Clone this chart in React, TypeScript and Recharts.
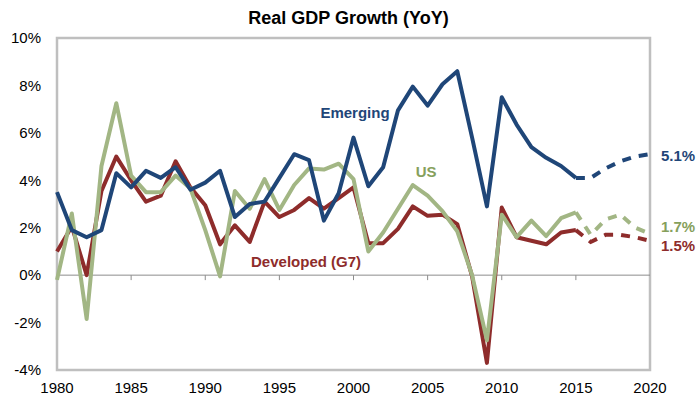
import { LineChart, Line, XAxis, YAxis, ReferenceLine, ReferenceArea, ReferenceDot } from 'recharts';

const years = [
  1980, 1981, 1982, 1983, 1984, 1985, 1986, 1987, 1988, 1989,
  1990, 1991, 1992, 1993, 1994, 1995, 1996, 1997, 1998, 1999,
  2000, 2001, 2002, 2003, 2004, 2005, 2006, 2007, 2008, 2009,
  2010, 2011, 2012, 2013, 2014, 2015,
];

const emerging = [
  3.5, 1.9, 1.6, 1.9, 4.3, 3.7, 4.4, 4.1, 4.55, 3.6,
  3.9, 4.4, 2.45, 3.0, 3.1, 4.1, 5.1, 4.85, 2.3, 3.45,
  5.8, 3.75, 4.55, 6.95, 7.95, 7.15, 8.05, 8.6, 5.8, 2.9,
  7.5, 6.35, 5.4, 4.95, 4.6, 4.1,
];

const developed = [
  1.0, 2.05, 0.0, 3.55, 5.0, 4.0, 3.1, 3.35, 4.8, 3.7,
  2.95, 1.3, 2.1, 1.4, 3.1, 2.45, 2.75, 3.25, 2.8, 3.25,
  3.7, 1.35, 1.35, 1.95, 2.9, 2.5, 2.55, 2.15, -0.05, -3.7,
  2.85, 1.6, 1.45, 1.3, 1.8, 1.9,
];

const us = [
  -0.2, 2.6, -1.85, 4.6, 7.25, 4.2, 3.5, 3.5, 4.2, 3.65,
  1.9, -0.05, 3.55, 2.8, 4.05, 2.75, 3.8, 4.5, 4.45, 4.7,
  4.05, 1.0, 1.8, 2.8, 3.8, 3.35, 2.7, 1.85, 0.0, -2.75,
  2.55, 1.6, 2.3, 1.65, 2.4, 2.65,
];

// forecast (dashed) part
const forecastYears = [2016, 2017, 2018, 2019, 2020];
const emergingF = [4.1, 4.5, 4.8, 5.0, 5.1];
const developedF = [1.4, 1.7, 1.7, 1.6, 1.45];
const usF = [1.7, 2.35, 2.55, 2.0, 1.75];

const xTicks = [1980, 1985, 1990, 1995, 2000, 2005, 2010, 2015, 2020];
const yTicks = [-4, -2, 0, 2, 4, 6, 8, 10];

const BLUE = '#1F4678';
const RED = '#8E2C2B';
const GREEN = '#A2B684';
const GREEN_TEXT = '#86A05C';
const FONT = '"Liberation Sans", Arial, sans-serif';

const last = years.length - 1;
const data = [
  ...years.map((yr, i) => ({
    year: yr,
    em: emerging[i],
    dev: developed[i],
    us: us[i],
    emF: i === last ? emerging[i] : null,
    devF: i === last ? developed[i] : null,
    usF: i === last ? us[i] : null,
  })),
  ...forecastYears.map((yr, i) => ({
    year: yr,
    em: null,
    dev: null,
    us: null,
    emF: emergingF[i],
    devF: developedF[i],
    usF: usF[i],
  })),
];

const pct = (v: number) => `${v}%`;

export default function App() {
  return (
    <div style={{ position: 'absolute', left: 0, top: 0, width: 697, height: 402, background: '#fff', fontFamily: FONT }}>
      <div
        style={{
          position: 'absolute', top: 7, left: 0, width: 697, textAlign: 'center',
          fontSize: 18, fontWeight: 'bold', lineHeight: '22px', color: '#000',
        }}
      >
        Real GDP Growth (YoY)
      </div>
      <LineChart width={697} height={402} data={data} margin={{ top: 38, right: 47, left: 0, bottom: 0 }}>
        <ReferenceArea x1={1980} x2={2020} y1={-4} y2={10} fill="none" fillOpacity={0} stroke="#BFBFBF" strokeWidth={2.5} />
        <ReferenceLine y={0} stroke="#8C8C8C" strokeWidth={1} />
        {xTicks.slice(1, -1).map((t) => (
          <ReferenceLine key={t} segment={[{ x: t, y: 0 }, { x: t, y: -0.21 }]} stroke="#8C8C8C" strokeWidth={1} />
        ))}
        <XAxis
          dataKey="year"
          type="number"
          domain={[1980, 2020]}
          ticks={xTicks}
          axisLine={false}
          tickLine={false}
          tickMargin={6}
          height={32}
          tick={{ fill: '#000', fontSize: 15, fontFamily: FONT }}
        />
        <YAxis
          domain={[-4, 10]}
          ticks={yTicks}
          tickFormatter={pct}
          axisLine={false}
          tickLine={false}
          tickMargin={10}
          width={57}
          tick={{ fill: '#000', fontSize: 15, fontFamily: FONT }}
        />
        <Line dataKey="dev" stroke={RED} strokeWidth={4} dot={false} strokeLinejoin="round" isAnimationActive={false} connectNulls={false} />
        <Line dataKey="us" stroke={GREEN} strokeWidth={4} dot={false} strokeLinejoin="round" isAnimationActive={false} connectNulls={false} />
        <Line dataKey="em" stroke={BLUE} strokeWidth={4} dot={false} strokeLinejoin="round" isAnimationActive={false} connectNulls={false} />
        <Line dataKey="devF" stroke={RED} strokeWidth={4} strokeDasharray="9 8" dot={false} isAnimationActive={false} connectNulls={false} />
        <Line dataKey="usF" stroke={GREEN} strokeWidth={4} strokeDasharray="9 8" dot={false} isAnimationActive={false} connectNulls={false} />
        <Line dataKey="emF" stroke={BLUE} strokeWidth={4} strokeDasharray="9 8" dot={false} isAnimationActive={false} connectNulls={false} />
        <ReferenceDot x={2000.1} y={6.85} r={0} fill="none" stroke="none"
          label={{ value: 'Emerging', position: 'center', fill: BLUE, fontSize: 15, fontWeight: 'bold', fontFamily: FONT }} />
        <ReferenceDot x={2004.9} y={4.35} r={0} fill="none" stroke="none"
          label={{ value: 'US', position: 'center', fill: GREEN_TEXT, fontSize: 15, fontWeight: 'bold', fontFamily: FONT }} />
        <ReferenceDot x={1996.8} y={0.56} r={0} fill="none" stroke="none"
          label={{ value: 'Developed (G7)', position: 'center', fill: RED, fontSize: 15, fontWeight: 'bold', fontFamily: FONT }} />
        <ReferenceDot x={2020} y={5.02} r={0} fill="none" stroke="none"
          label={{ value: '5.1%', position: 'right', offset: 11, fill: BLUE, fontSize: 15, fontWeight: 'bold', fontFamily: FONT }} />
        <ReferenceDot x={2020} y={2.04} r={0} fill="none" stroke="none"
          label={{ value: '1.7%', position: 'right', offset: 11, fill: GREEN_TEXT, fontSize: 15, fontWeight: 'bold', fontFamily: FONT }} />
        <ReferenceDot x={2020} y={1.24} r={0} fill="none" stroke="none"
          label={{ value: '1.5%', position: 'right', offset: 11, fill: RED, fontSize: 15, fontWeight: 'bold', fontFamily: FONT }} />
      </LineChart>
    </div>
  );
}
